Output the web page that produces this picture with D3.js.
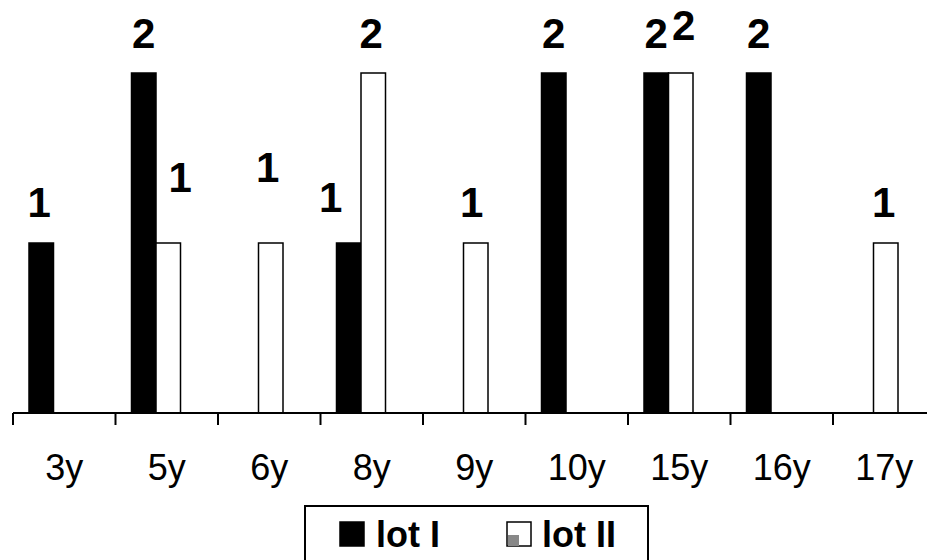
<!DOCTYPE html>
<html>
<head>
<meta charset="utf-8">
<script src="https://cdn.jsdelivr.net/npm/d3@7"></script>
<style>
  html, body { margin: 0; padding: 0; background: #fff; }
  svg { display: block; font-family: "Liberation Sans", Arial, sans-serif; }
</style>
</head>
<body>
<svg id="chart" width="927" height="560"></svg>
<script>
// Counts per age group for each lot
const categories = ["3y", "5y", "6y", "8y", "9y", "10y", "15y", "16y", "17y"];
const seriesNames = ["lot I", "lot II"];
const lotI  = [1, 2, 0, 1, 0, 2, 2, 2, 0];
const lotII = [0, 1, 1, 2, 1, 0, 2, 0, 1];

// Hand placement tweaks for a few value labels (dx, dy in px)
const labelNudge = {
  "lot I|3y":  [-2, -1],
  "lot II|5y": [12, -26],
  "lot II|6y": [-3, -36],
  "lot I|8y":  [-18, -6],
  "lot II|8y": [-2, 0],
  "lot II|9y": [-4, -1],
  "lot II|15y": [3, -8],
  "lot II|17y": [-2, -1]
};

const svg = d3.select("#chart");
const axisY = 413;

const x = d3.scaleBand().domain(categories).range([13, 935.5]).paddingInner(0).paddingOuter(0);
const xs = d3.scaleBand().domain(seriesNames).range([16, 65]);
const y = d3.scaleLinear().domain([0, 2]).range([axisY, 73]);

const fills = { "lot I": "#000", "lot II": "#fff" };
const valuesBySeries = { "lot I": lotI, "lot II": lotII };

const rows = [];
seriesNames.forEach(s => {
  valuesBySeries[s].forEach((v, i) => {
    if (v > 0) rows.push({ series: s, cat: categories[i], value: v });
  });
});

// Bars
svg.append("g").selectAll("rect")
  .data(rows)
  .join("rect")
  .attr("x", d => x(d.cat) + xs(d.series))
  .attr("y", d => y(d.value))
  .attr("width", xs.bandwidth())
  .attr("height", d => y(0) - y(d.value))
  .attr("fill", d => fills[d.series])
  .attr("stroke", "#000")
  .attr("stroke-width", 1.5);

// Value labels
svg.append("g").selectAll("text")
  .data(rows)
  .join("text")
  .attr("x", d => {
    const n = labelNudge[d.series + "|" + d.cat] || [0, 0];
    return x(d.cat) + xs(d.series) + xs.bandwidth() / 2 + n[0];
  })
  .attr("y", d => {
    const n = labelNudge[d.series + "|" + d.cat] || [0, 0];
    return y(d.value) - 25 + n[1];
  })
  .attr("text-anchor", "middle")
  .attr("font-weight", "bold")
  .attr("font-size", 42)
  .attr("fill", "#000")
  .text(d => d.value);

// Category axis with ticks between groups
const axisG = svg.append("g").attr("transform", `translate(0,${axisY})`);
axisG.append("line")
  .attr("x1", x.range()[0]).attr("x2", 927)
  .attr("y1", 0).attr("y2", 0)
  .attr("stroke", "#000").attr("stroke-width", 2);
axisG.selectAll("line.tick")
  .data(categories)
  .join("line")
  .attr("class", "tick")
  .attr("x1", d => x(d)).attr("x2", d => x(d))
  .attr("y1", 0).attr("y2", 12)
  .attr("stroke", "#000").attr("stroke-width", 2);
axisG.selectAll("text")
  .data(categories)
  .join("text")
  .attr("x", d => x(d) + x.bandwidth() / 2)
  .attr("y", 67)
  .attr("text-anchor", "middle")
  .attr("font-size", 36)
  .attr("fill", "#000")
  .text(d => d);

// Legend
const legend = svg.append("g");
legend.append("rect")
  .attr("x", 305).attr("y", 506)
  .attr("width", 343).attr("height", 70)
  .attr("fill", "#fff").attr("stroke", "#000").attr("stroke-width", 2);

const legendItems = [
  { name: "lot I", sx: 340, tx: 376 },
  { name: "lot II", sx: 507, tx: 542 }
];
legendItems.forEach(it => {
  legend.append("rect")
    .attr("x", it.sx).attr("y", 522)
    .attr("width", 24).attr("height", 24)
    .attr("fill", fills[it.name])
    .attr("stroke", "#000").attr("stroke-width", 1.5);
  if (it.name === "lot II") {
    legend.append("rect")
      .attr("x", it.sx + 1).attr("y", 535)
      .attr("width", 11).attr("height", 11)
      .attr("fill", "#888");
  }
  legend.append("text")
    .attr("x", it.tx).attr("y", 547)
    .attr("font-weight", "bold")
    .attr("font-size", 36)
    .attr("fill", "#000")
    .text(it.name);
});
</script>
</body>
</html>
